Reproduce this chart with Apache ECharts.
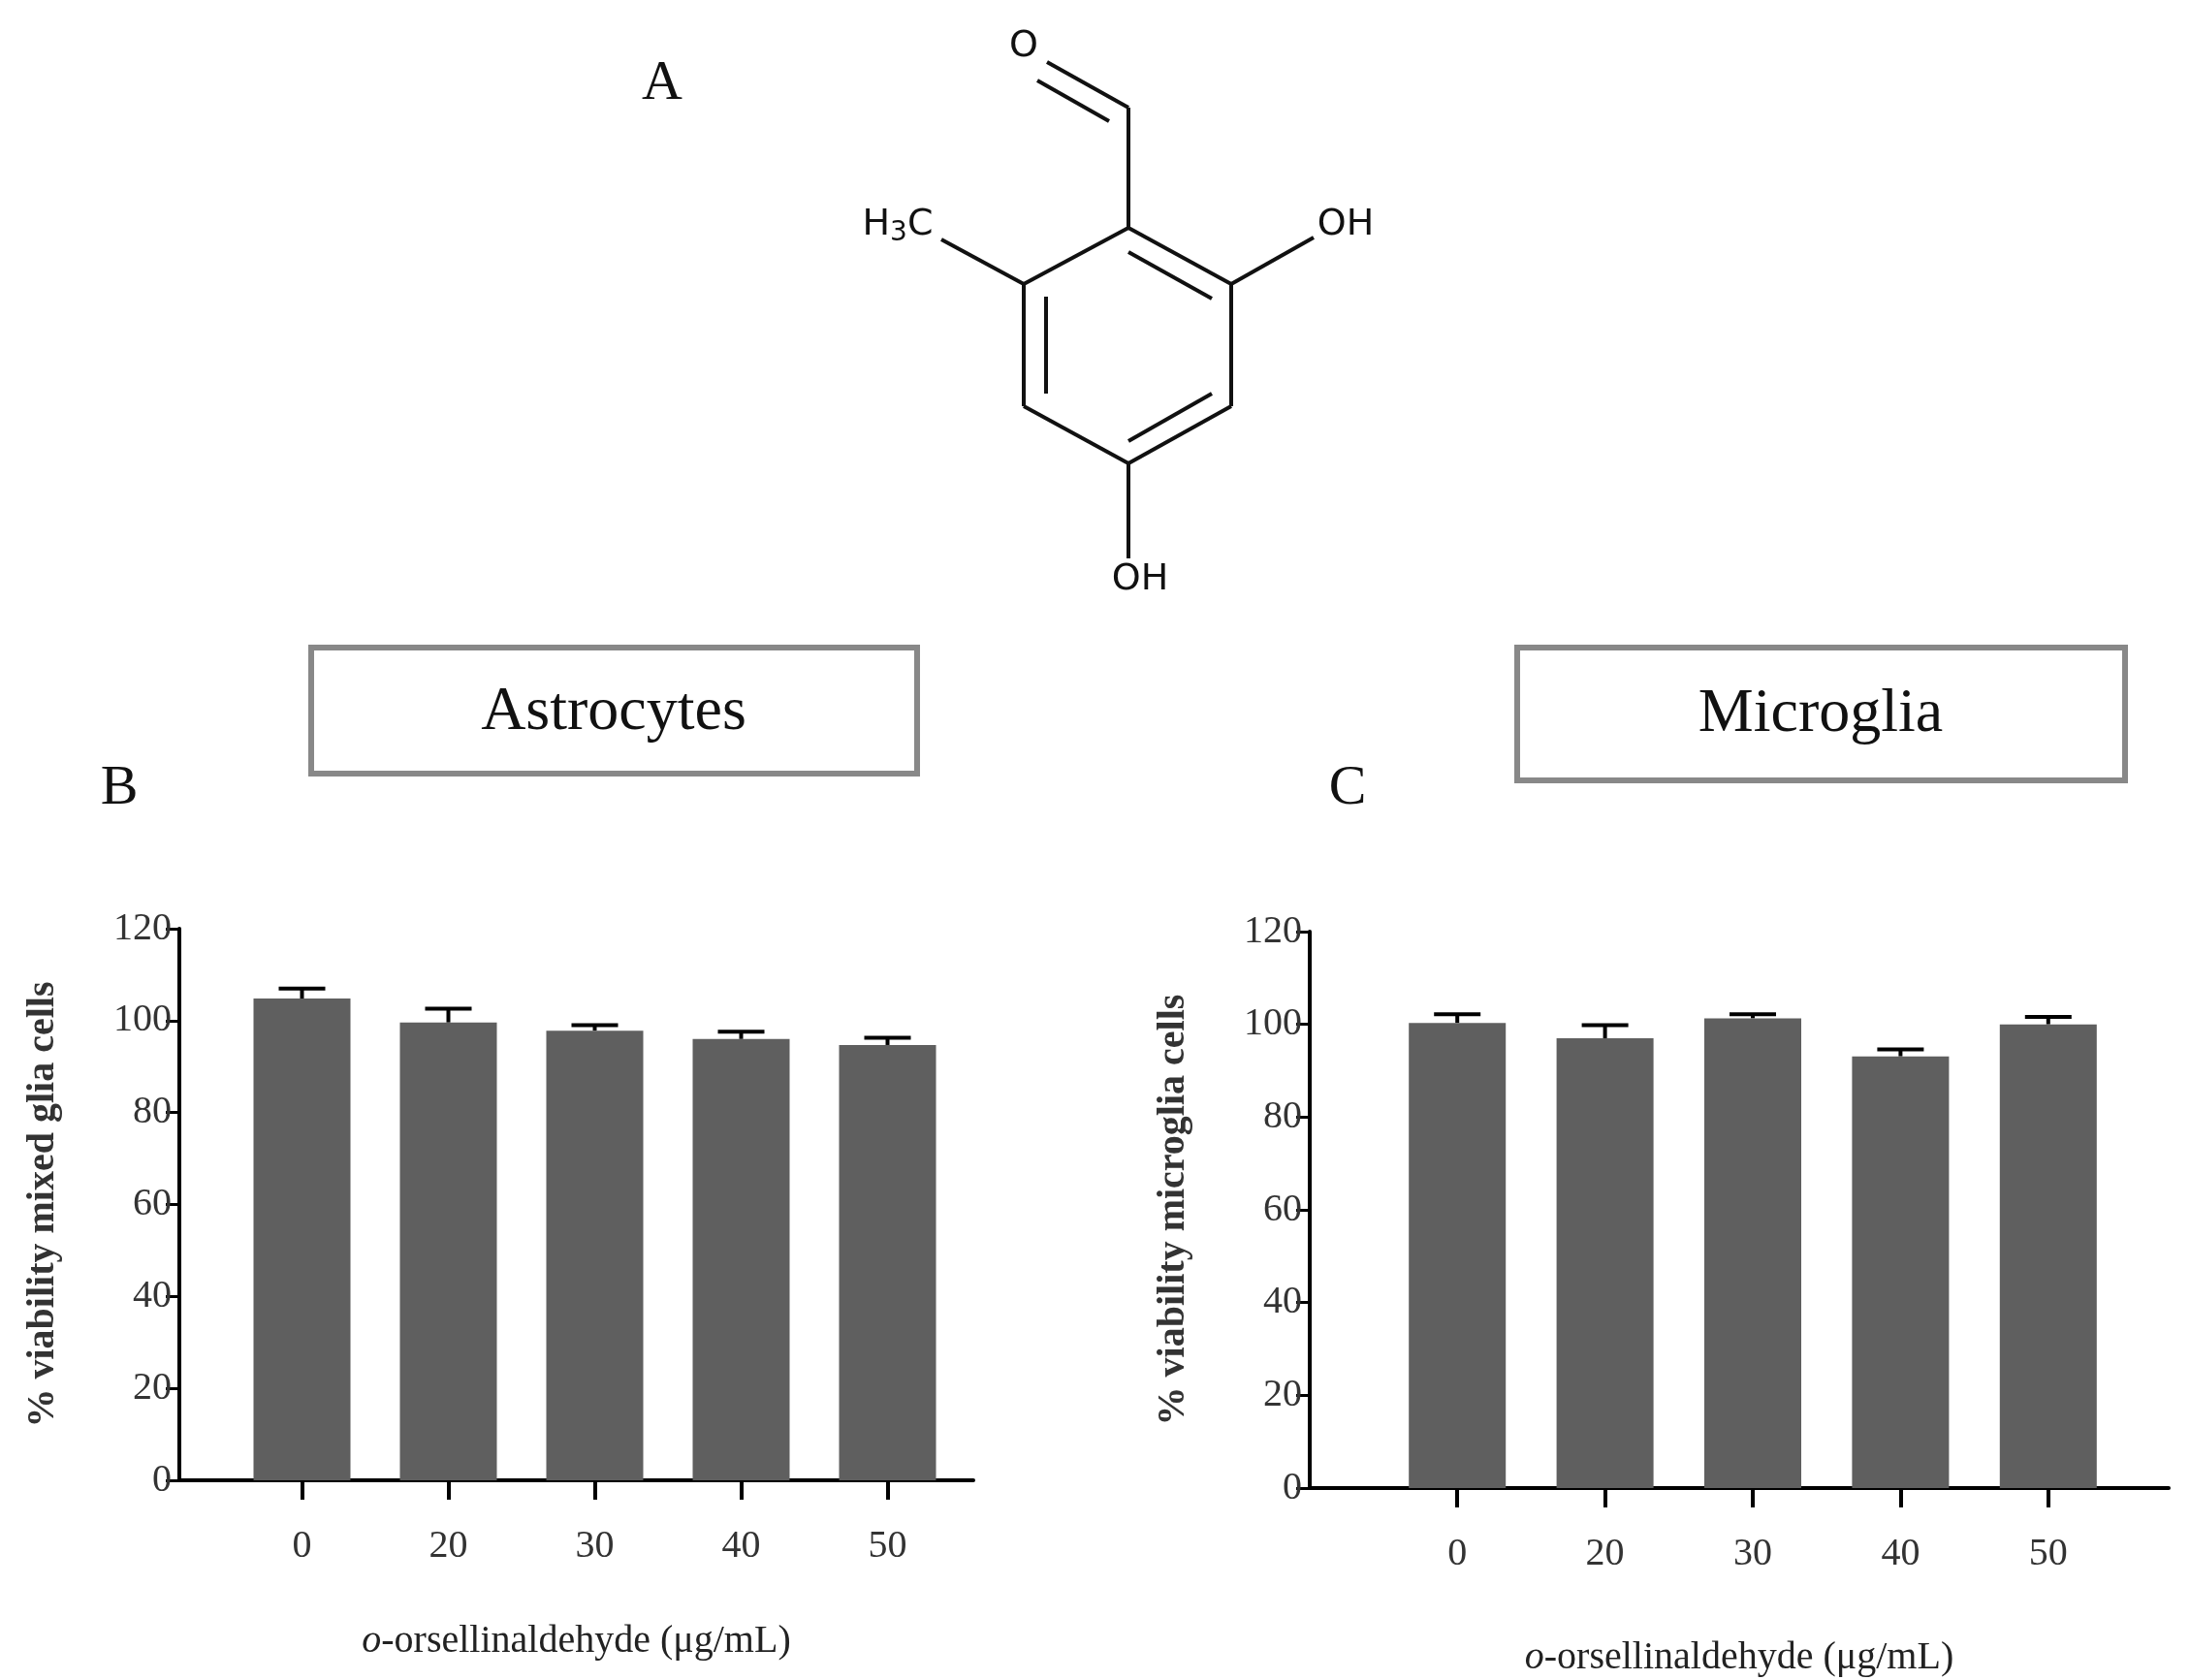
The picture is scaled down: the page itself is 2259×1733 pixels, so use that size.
<!DOCTYPE html>
<html><head><meta charset="utf-8">
<script src="https://cdn.jsdelivr.net/npm/echarts@6/dist/echarts.min.js"></script>
<style>html,body{margin:0;padding:0;background:#fff}#c{width:2259px;height:1733px}</style>
</head><body><div id="c"></div>
<script>
const categories = ['0','20','30','40','50'];
const astroMean = [104.8, 99.6, 97.8, 96.0, 94.7];
const astroErr  = [2.2, 3.0, 1.2, 1.6, 1.6];
const microMean = [100.3, 97.0, 101.3, 93.1, 100.0];
const microErr  = [1.9, 2.8, 0.9, 1.5, 1.6];
const yTicks = [0, 20, 40, 60, 80, 100, 120];

const F = '"Liberation Serif","Times New Roman",serif';
const chart = echarts.init(document.getElementById('c'));

function panel(i, cat, frame) {
  // cat: category grid, frame: axis-line grid
  return {cat, frame};
}
const P = [
  {cat:{left:236, width:755, top:958, bottom:206}, frame:{left:185, width:819, top:958, bottom:206}, mean:astroMean, err:astroErr, yname:'% viability mixed glia cells', titleGap:52},
  {cat:{left:1427, width:762, top:961, bottom:198}, frame:{left:1351, width:886, top:961, bottom:198}, mean:microMean, err:microErr, yname:'% viability microglia cells', titleGap:52}
];
const grid=[], xAxis=[], yAxis=[], series=[];
P.forEach((p,k)=>{
  const gc = grid.length; grid.push(p.cat);
  const gf = grid.length; grid.push(p.frame);
  const xc = xAxis.length;
  xAxis.push({type:'category', gridIndex:gc, data:categories,
    axisLine:{show:false}, axisTick:{show:true, alignWithLabel:true, length:20, lineStyle:{color:'#000', width:4}},
    axisLabel:{fontFamily:F, fontSize:40, color:'#333', margin:48},
    name:'', });
  const xf = xAxis.length;
  xAxis.push({type:'value', gridIndex:gf, min:0, max:1, axisLine:{show:true, lineStyle:{color:'#000', width:4}},
    axisTick:{show:false}, axisLabel:{show:false}, splitLine:{show:false},
    name:'{i|o}-orsellinaldehyde (μg/mL)', nameLocation:'middle', nameGap: k===0?146:155,
    nameTextStyle:{fontFamily:F, fontSize:40, color:'#222', rich:{i:{fontFamily:F, fontSize:40, fontStyle:'italic', color:'#222'}}}});
  const yc = yAxis.length;
  yAxis.push({type:'value', gridIndex:gc, min:0, max:120, interval:20, show:false});
  yAxis.push({type:'value', gridIndex:gf, min:0, max:120, interval:20,
    axisLine:{show:true, lineStyle:{color:'#000', width:4}},
    axisTick:{show:true, length:14, lineStyle:{color:'#000', width:3}},
    axisLabel:{fontFamily:F, fontSize:40, color:'#333', margin:8, formatter:v=>yTicks.includes(v)?String(v):''},
    splitLine:{show:false},
    name:p.yname, nameLocation:'middle', nameGap:120,
    nameTextStyle:{fontFamily:F, fontSize:40, fontWeight:'bold', color:'#333'}});
  series.push({type:'custom', xAxisIndex:xc, yAxisIndex:yc, z:1,
    data:p.mean.map((m,j)=>[j, m, m+p.err[j]]),
    renderItem:(params, api)=>{
      const x=api.value(0), m=api.value(1), t=api.value(2);
      const a=api.coord([x,m]), b=api.coord([x,t]);
      const st={stroke:'#000', lineWidth:4};
      return {type:'group', children:[
        {type:'line', shape:{x1:a[0],y1:a[1],x2:b[0],y2:b[1]}, style:st},
        {type:'line', shape:{x1:b[0]-24,y1:b[1],x2:b[0]+24,y2:b[1]}, style:st}]};
    }});
  series.push({type:'bar', xAxisIndex:xc, yAxisIndex:yc, data:p.mean, barWidth:100, z:2,
    itemStyle:{color:'#5f5f5f'}});
});

const L = {stroke:'#111', lineWidth:4};
function ln(x1,y1,x2,y2){return {type:'line', shape:{x1,y1,x2,y2}, style:L};}
function txt(x,y,t,size,extra){return Object.assign({type:'text', x, y, style:{text:t, fontFamily:F, fontSize:size, fill:'#111', align:'center', verticalAlign:'middle'}}, extra||{});}
const S = '"DejaVu Sans",sans-serif';
const graphic = [
  txt(683,87,'A',58), txt(123,814,'B',58), txt(1390,814,'C',58),
  {type:'rect', shape:{x:321,y:668,width:625,height:130}, style:{fill:'#fff', stroke:'#888', lineWidth:6}},
  txt(633,735,'Astrocytes',64),
  {type:'rect', shape:{x:1565,y:668,width:627,height:137}, style:{fill:'#fff', stroke:'#888', lineWidth:6}},
  txt(1878,737,'Microglia',64),
  // molecule
  ln(1164,235,1270,293), ln(1270,293,1270,419), ln(1270,419,1164,478),
  ln(1164,478,1056,419), ln(1056,419,1056,293), ln(1056,293,1164,235),
  ln(1079,306,1079,406), ln(1164,260,1250,308), ln(1164,455,1250,406),
  ln(1164,235,1164,111), ln(1164,111,1080,64), ln(1144,125,1070,83),
  ln(1056,293,971,247), ln(1270,293,1355,245), ln(1164,478,1164,576),
  {type:'text', x:1056, y:48, style:{text:'O', fontFamily:S, fontSize:38, fill:'#111', align:'center', verticalAlign:'middle'}},
  {type:'text', x:1388, y:232, style:{text:'OH', fontFamily:S, fontSize:38, fill:'#111', align:'center', verticalAlign:'middle'}},
  {type:'text', x:1176, y:598, style:{text:'OH', fontFamily:S, fontSize:38, fill:'#111', align:'center', verticalAlign:'middle'}},
  {type:'text', x:926, y:232, style:{text:'H{s|3}C', fontFamily:S, fontSize:38, fill:'#111', align:'center', verticalAlign:'middle', rich:{s:{fontFamily:S, fontSize:28, fill:'#111', padding:[18,0,0,0]}}}}
];

chart.setOption({animation:false, backgroundColor:'#fff', grid, xAxis, yAxis, series, graphic});
</script></body></html>
